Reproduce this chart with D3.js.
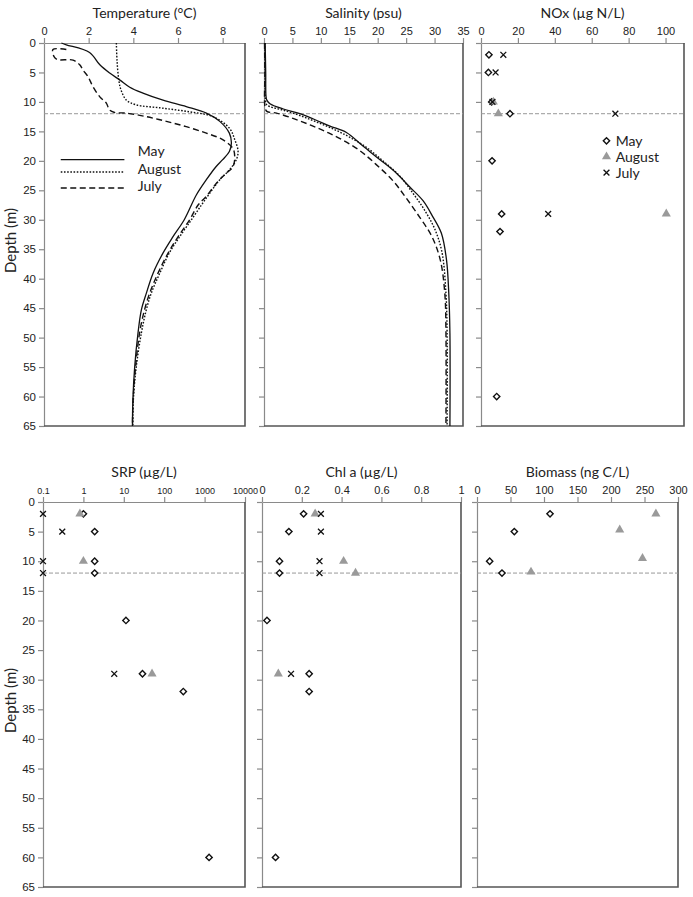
<!DOCTYPE html>
<html>
<head>
<meta charset="utf-8">
<script src="https://cdn.jsdelivr.net/npm/d3@7"></script>
<style>
  body { margin: 0; background: #fff; }
  svg { font-family: Lato, "Open Sans", sans-serif; }
  .tick text { fill: #222; }
</style>
</head>
<body>
<div id="vis"></div>
<script>
// ---- data: [value, depth] pairs ----
const depthTicks = d3.range(0, 70, 5);
const FRONT_DEPTH = 12;

// temperature profiles
const tempMay = [[0.78,0],[1.0,0.3],[2.04,1.6],[2.5,3.7],[2.94,5.1],[3.4,6.3],[3.84,7.5],[4.43,8.5],[5.33,9.7],[6.37,10.8],[7.27,11.9],[7.87,13.3],[8.3,15.3],[8.39,17],[8.3,18.4],[8.0,19.8],[7.7,21],[7.27,23.2],[6.82,25.8],[6.28,30],[5.77,32.9],[5.32,35.7],[4.88,39.1],[4.58,42.5],[4.36,45.3],[4.21,49.2],[4.06,55],[3.98,60.6],[3.96,65]];
const tempAug = [[3.24,0],[3.27,3],[3.35,6.3],[3.45,8],[3.69,9.7],[4.13,10.5],[5.18,11],[6.37,11.6],[7.57,12.5],[8.31,14.5],[8.54,16.4],[8.69,18.4],[8.61,19.8],[8.31,21.5],[7.87,23.2],[7.42,25.5],[7.05,27.5],[6.6,30],[6.07,32.9],[5.6,35.7],[5.18,39.1],[4.8,42.5],[4.58,45.3],[4.36,49.2],[4.13,55],[4.0,60.6],[3.98,65]];
const tempJul = [[1.0,1.1],[0.4,1.1],[0.45,2.3],[0.6,2.8],[1.3,2.9],[1.6,3.7],[1.75,4.6],[1.97,5.7],[2.19,7.4],[2.49,9.1],[2.79,10.2],[2.94,11.4],[3.16,11.8],[3.69,11.9],[4.58,12.5],[5.48,13.3],[6.37,14.2],[7.27,15.3],[8.0,16.4],[8.46,17.9],[8.54,19.3],[8.46,21],[8.16,22.1],[7.72,23.8],[7.27,26],[6.9,27.5],[6.52,30],[6.0,32.9],[5.55,35.7],[5.1,39.1],[4.73,42.5],[4.5,45.3],[4.28,49.2],[4.1,55],[3.99,60.6],[3.96,65]];

// salinity profiles
const salMay = [[0.2,0],[0.3,5],[0.35,9],[0.5,9.7],[1.05,10.3],[3.4,11.2],[6.3,12.0],[8.7,12.9],[11.6,14.1],[14.5,15.2],[17.4,17.5],[20.4,19.8],[23.3,22.1],[25.6,24.4],[28.0,26.8],[29.7,29.5],[31.2,32.3],[32.1,36.8],[32.5,42.5],[32.7,49.3],[32.7,65]];
const salAug = [[0.15,0],[0.2,5],[0.3,10],[0.5,10.5],[1.05,10.8],[3.4,11.4],[6.3,12.3],[9.2,13.4],[12.2,14.6],[15.1,16],[18,17.7],[20.9,20],[23.9,22.6],[26.2,25.5],[28.2,28.3],[30.0,31.5],[31.3,35.5],[32.0,42.5],[32.2,49],[32.2,65]];
const salJul = [[0.1,0],[0.15,5],[0.2,11],[0.5,11.6],[2.2,11.9],[5.1,12.8],[8.1,13.9],[11,15.1],[13.9,16.5],[16.9,18.3],[19.7,20.6],[22.7,23.4],[25,26.3],[27.4,29.6],[29.5,32.8],[31.0,36.8],[31.8,42.5],[32.0,49],[32.0,65]];

// NOx (ug N/L)
const noxMay = [[4.3,2],[4.0,5],[5.8,10],[15.7,12],[6.0,20],[11.2,29],[10.3,32],[8.5,60]];
const noxAug = [[6.7,10],[9.4,12],[100.4,29]];
const noxJul = [[12.1,2],[7.9,5],[6.2,10],[72.8,12],[36.4,29]];

// SRP (ug/L), log axis
const srpMay = [[1.0,2],[1.9,5],[1.9,10],[1.9,12],[11.3,20],[29,29],[297,32],[1290,60]];
const srpAug = [[0.82,2],[1.0,10],[50,29]];
const srpJul = [[0.1,2],[0.3,5],[0.1,10],[0.1,12],[5.8,29]];

// Chl a (ug/L)
const chlMay = [[0.209,2],[0.135,5],[0.088,10],[0.088,12],[0.025,20],[0.237,29],[0.237,32],[0.068,60]];
const chlAug = [[0.267,2],[0.41,10],[0.47,12],[0.082,29]];
const chlJul = [[0.296,2],[0.296,5],[0.289,10],[0.289,12],[0.146,29]];

// Biomass (ng C/L)
const bioMay = [[109,2],[55.7,5],[18.9,10],[37.3,12]];
const bioAug = [[267,2],[213,4.7],[247,9.5],[80.6,11.8]];

const seasons = ["May", "August", "July"];

// ---- frame ----
const FRAME_WIDTH = 693;
const FRAME_HEIGHT = 897;
const ROW_TOP = [43, 426];
const ROW_BOT = [502, 887];

const SVG = d3.select("#vis").append("svg")
  .attr("width", FRAME_WIDTH)
  .attr("height", FRAME_HEIGHT);

const panels = [
  { title: "Temperature (°C)", x: [44, 245], y: ROW_TOP, domain: [0, 9], ticks: [0,2,4,6,8], labels: true,
    lines: [tempMay, tempAug, tempJul], legend: "lines" },
  { title: "Salinity (psu)", x: [264, 463], y: ROW_TOP, domain: [0, 35], ticks: d3.range(0, 40, 5),
    lines: [salMay, salAug, salJul] },
  { title: "NOx (µg N/L)", x: [481, 684], y: ROW_TOP, domain: [0, 110], ticks: d3.range(0, 120, 20),
    points: [noxMay, noxAug, noxJul], legend: "points" },
  { title: "SRP (µg/L)", x: [43, 245], y: ROW_BOT, domain: [0.1, 10000], log: true, ticks: [0.1,1,10,100,1000,10000], labels: true,
    points: [srpMay, srpAug, srpJul], tickFont: 9 },
  { title: "Chl a (µg/L)", x: [262, 461], y: ROW_BOT, domain: [0, 1], ticks: [0,0.2,0.4,0.6,0.8,1],
    points: [chlMay, chlAug, chlJul] },
  { title: "Biomass (ng C/L)", x: [477, 678], y: ROW_BOT, domain: [0, 300], ticks: d3.range(0, 350, 50),
    points: [bioMay, bioAug, []] }
];

const dashes = [null, "1.6,1.6", "6,3.5"];

function drawMarker(g, kind, x, y) {
  if (kind === 0) {
    g.append("path").attr("d", d3.symbol(d3.symbolSquare, 20)())
      .attr("transform", `translate(${x},${y}) rotate(45)`)
      .attr("fill", "#fff").attr("stroke", "#111").attr("stroke-width", 1.4);
  } else if (kind === 1) {
    g.append("path").attr("d", d3.symbol(d3.symbolTriangle, 36)())
      .attr("transform", `translate(${x},${y})`)
      .attr("fill", "#9a9a9a");
  } else {
    g.append("path").attr("d", d3.symbol(d3.symbolTimes, 24)())
      .attr("transform", `translate(${x},${y})`)
      .attr("fill", "none").attr("stroke", "#111").attr("stroke-width", 1.3);
  }
}

panels.forEach((p) => {
  const X = (p.log ? d3.scaleLog() : d3.scaleLinear()).domain(p.domain).range(p.x);
  const Y = d3.scaleLinear().domain([0, 65]).range(p.y);
  const g = SVG.append("g");

  // top axis
  const xAxis = g.append("g").attr("transform", `translate(0,${p.y[0]})`)
    .call(d3.axisTop(X).tickValues(p.ticks).tickFormat((d) => String(d)).tickSize(5).tickSizeOuter(0));
  xAxis.selectAll("text").attr("font-size", p.tickFont || 11);

  // left axis
  const yAxis = g.append("g").attr("transform", `translate(${p.x[0]},0)`)
    .call(d3.axisLeft(Y).tickValues(depthTicks).tickSize(5).tickSizeOuter(0)
      .tickFormat(p.labels ? d3.format("d") : ""));
  yAxis.selectAll("text").attr("font-size", 11.5);

  g.selectAll(".domain, .tick line").attr("stroke", "#8a8a8a").attr("stroke-width", 1.2);

  // right + bottom frame
  g.append("path")
    .attr("d", `M${p.x[1]},${p.y[0]}V${p.y[1]}H${p.x[0]}`)
    .attr("fill", "none").attr("stroke", "#555").attr("stroke-width", 1.6);

  // 12 m front line
  g.append("line")
    .attr("x1", p.x[0]).attr("x2", p.x[1])
    .attr("y1", Y(FRONT_DEPTH)).attr("y2", Y(FRONT_DEPTH))
    .attr("stroke", "#999").attr("stroke-width", 1).attr("stroke-dasharray", "4,2");

  // title
  g.append("text").attr("x", (p.x[0] + p.x[1]) / 2).attr("y", p.y[0] - 25)
    .attr("text-anchor", "middle").attr("font-size", 14).attr("fill", "#222").text(p.title);

  if (p.labels) {
    g.append("text")
      .attr("transform", `translate(16,${(p.y[0] + p.y[1]) / 2 + 6}) rotate(-90)`)
      .attr("text-anchor", "middle").attr("font-size", 15).attr("fill", "#222").text("Depth (m)");
  }

  if (p.lines) {
    const line = d3.line().x((d) => X(d[0])).y((d) => Y(d[1])).curve(d3.curveCatmullRom.alpha(0.5));
    p.lines.forEach((series, i) => {
      g.append("path").datum(series).attr("d", line)
        .attr("fill", "none").attr("stroke", "#111")
        .attr("stroke-width", i === 0 ? 1.3 : 1.4)
        .attr("stroke-dasharray", dashes[i]);
    });
  }

  if (p.points) {
    p.points.forEach((series, i) => {
      series.forEach((d) => drawMarker(g, i, X(d[0]), Y(d[1])));
    });
  }

  if (p.legend === "lines") {
    seasons.forEach((s, i) => {
      const ly = Y([19.8, 21.9, 24.6][i]);
      g.append("line").attr("x1", X(0.75)).attr("x2", X(3.6)).attr("y1", ly).attr("y2", ly)
        .attr("stroke", "#111").attr("stroke-width", 1.4).attr("stroke-dasharray", dashes[i]);
      g.append("text").attr("x", X(4.2)).attr("y", Y([18.4, 21.3, 24.2][i]) + 5).attr("font-size", 14)
        .attr("fill", "#222").text(s);
    });
  }
  if (p.legend === "points") {
    seasons.forEach((s, i) => {
      const ly = Y([16.6, 19.3, 22.0][i]);
      drawMarker(g, i, X(68), ly);
      g.append("text").attr("x", X(73)).attr("y", ly + 5).attr("font-size", 14)
        .attr("fill", "#222").text(s);
    });
  }
});
</script>
</body>
</html>
